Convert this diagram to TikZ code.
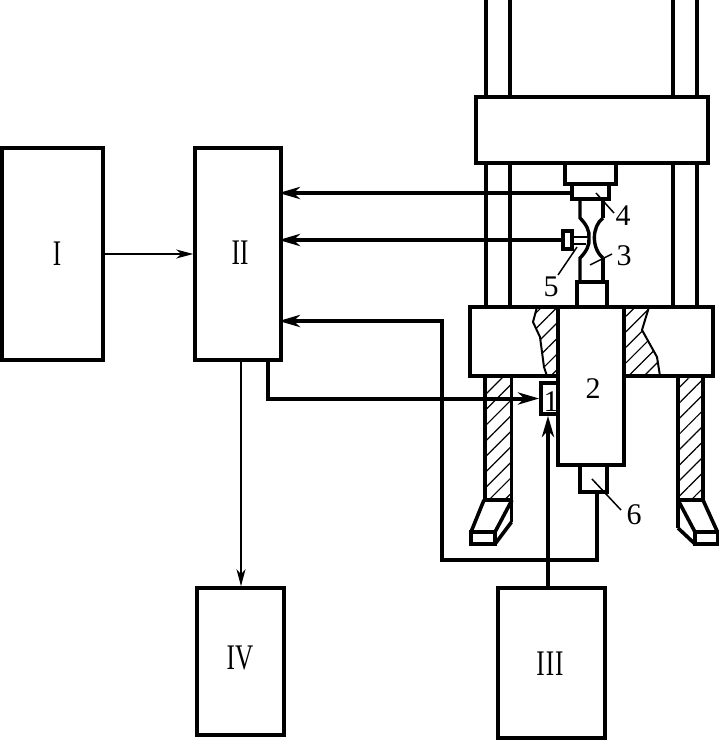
\documentclass[tikz,border=0pt]{standalone}
\usepackage{fontspec}
\setmainfont{Liberation Serif}
\usetikzlibrary{arrows.meta,patterns,patterns.meta,calc}
\newcommand{\rn}[1]{\scalebox{0.7}[1]{\fontsize{36}{36}\selectfont #1}}
\tikzset{
 box/.style={draw,line width=3.6pt,rectangle,inner sep=0pt,fill=white},
 part/.style={draw,line width=3.6pt,rectangle,inner sep=0pt},
 roman/.style={inner sep=0pt},
 num/.style={inner sep=0pt,font=\fontsize{30}{30}\selectfont},
 heavy/.style={line width=4pt,-{Stealth[length=21pt,width=12pt,inset=6pt]},line join=miter,shorten >=-4pt},
 light/.style={line width=1.4pt,-{Stealth[length=17pt,width=9pt,inset=5pt]}},
 stroke/.style={line width=3.6pt,line join=miter},
 leader/.style={line width=1.5pt},
 hatched/.style={pattern={Lines[angle=45,distance=11pt,line width=1.2pt]}}
}
\begin{document}
\begin{tikzpicture}[x=1pt,y=-1pt]
\useasboundingbox[fill=white] (0,0) rectangle (719,740);
% hatching
\path[hatched] (537,307) -- (533,322) -- (540,337) -- (544,367) -- (547,376) -- (558,376) -- (558,307) -- cycle;
\path[hatched] (624,307) -- (649,307) -- (642,330) -- (657,357) -- (660,376) -- (624,376) -- cycle;
\path[hatched] (485,376) rectangle (511,500);
\path[hatched] (678,376) rectangle (703,500);
\draw[line width=2pt] (537,307) -- (533,322) -- (540,337) -- (544,367) -- (547,376);
\draw[line width=2pt] (649,307) -- (642,330) -- (657,357) -- (660,376);
% columns
\foreach \x in {486,510,673,697} {
 \draw[stroke] (\x,0) -- (\x,97);
 \draw[stroke] (\x,163) -- (\x,307);
}
\draw[stroke] (485,376) -- (485,500);
\draw[stroke] (511.5,376) -- (511.5,522);
\draw[stroke] (678,376) -- (678,528);
\draw[stroke] (703,376) -- (703,500);
% crosshead and table
\node[part,minimum width=232pt,minimum height=66pt] (cross) at (592,130) {};
\node[part,minimum width=243pt,minimum height=69pt] (table) at (591.5,341.5) {};
% feet
\draw[stroke] (471,532) rectangle (495,544);
\draw[stroke] (484,500) -- (512.5,500);
\draw[stroke] (484,500) -- (471,532);
\draw[stroke] (512,500) -- (495,532);
\draw[stroke] (511.5,522) -- (495,544);
\draw[stroke] (695,532) rectangle (717.5,544);
\draw[stroke] (677,500) -- (704,500);
\draw[stroke] (703,500) -- (717.5,532);
\draw[stroke] (678,500) -- (695,532);
\draw[stroke] (678,528) -- (695,544);
% grips and specimen
\node[part,minimum width=51pt,minimum height=21pt] (upper) at (590.5,173.5) {};
\node[part,minimum width=37pt,minimum height=15pt] (grip) at (590.5,191.5) {};
\node[part,minimum width=30pt,minimum height=25pt] (lower) at (592,294.5) {};
\draw[stroke,line width=3.4pt] (580,199) -- (580,218) .. controls (586,224) and (590,231) .. (589,238) .. controls (590,245) and (586,252) .. (580,258) -- (580,282);
\draw[stroke,line width=3.4pt] (603,199) -- (603,218);
\draw[stroke,line width=3.4pt] (603,258) -- (603,282);
\draw[stroke,line width=3.4pt] (603,218) .. controls (592,226) and (591,248) .. (603,258);
% actuator
\node[box,minimum width=66pt,minimum height=158pt] (ram) at (591,386) {};
\node[num] at (593,389) {2};
\node[part,minimum width=27pt,minimum height=27pt] (six) at (593.5,478.5) {};
\node[part,minimum width=17pt,minimum height=31pt] (one) at (549.5,398.5) {};
\node[num] at (551,402) {1};
% sensor
\node[part,line width=3.2pt,minimum width=9pt,minimum height=18pt] (sensor) at (567.5,240) {};
\draw[line width=2.6pt] (572,237) -- (588,237);
\draw[line width=2.6pt] (572,244) -- (586,244);
% boxes
\node[box,minimum width=101pt,minimum height=212pt] (I) at (52.5,254) {};
\node[box,minimum width=86pt,minimum height=212pt] (II) at (238,254) {};
\node[box,minimum width=107pt,minimum height=150pt] (III) at (551.5,663) {};
\node[box,minimum width=87pt,minimum height=147pt] (IV) at (240.5,661.5) {};
\node[roman] at (57,254) {\rn{I}};
\node[roman] at (240,253) {\rn{II}};
\node[roman] at (550,664) {\rn{I\kern1.5pt I\kern1.5pt I}};
\node[roman] at (240,658) {\rn{IV}};
% connectors
\coordinate (a0) at ($(grip.west)+(0,1.5)$);
\coordinate (a) at (II.east |- a0);
\draw[heavy] (a0) -- (a);
\coordinate (b) at (II.east |- sensor.west);
\draw[heavy] (sensor.west) -- (b);
\draw[light] (I.east) -- (II.west);
\coordinate (c) at (241,360);
\draw[light] (c) -- (c |- IV.north);
\coordinate (d) at (597,492);
\coordinate (e) at (442,560);
\coordinate (f0) at (0,321);
\coordinate (f) at (II.east |- f0);
\draw[heavy] (d) |- (e) |- (f);
\coordinate (g) at (268,360);
\draw[heavy,shorten >=0pt] (g) |- (one.west);
\coordinate (h) at (548,588);
\draw[heavy,shorten >=0pt] (h) -- (h |- one.south);
% labels and leaders
\node[num] (n4) at (623,216) {4};
\draw[leader] (596,193) -- (614,213);
\node[num] (n3) at (624,256) {3};
\draw[leader] (590,265) -- (612,254);
\node[num] (n5) at (551,287) {5};
\draw[leader] (577,247) -- (558,275);
\node[num] (n6) at (634,515) {6};
\draw[leader] (592,479) -- (621,510);
\end{tikzpicture}
\end{document}
